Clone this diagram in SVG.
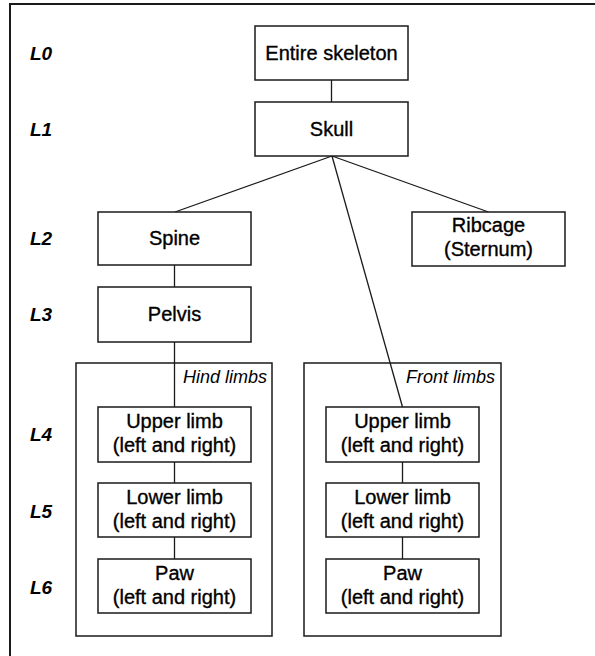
<svg xmlns="http://www.w3.org/2000/svg" width="595" height="656" viewBox="0 0 595 656">
  <style>
    .box { fill: #ffffff; stroke: #1a1a1a; stroke-width: 1.5; }
    .grp { fill: none; stroke: #1a1a1a; stroke-width: 1.5; }
    .frame { fill: none; stroke: #1a1a1a; stroke-width: 2; }
    .edge { stroke: #1a1a1a; stroke-width: 1.3; fill: none; }
    .lbl { font-family: "Liberation Sans", Arial, sans-serif; font-size: 20px; fill: #000; stroke: #000; stroke-width: 0.35; text-anchor: middle; }
    .lvl { font-family: "Liberation Sans", Arial, sans-serif; font-size: 19px; font-weight: bold; font-style: italic; fill: #000; }
    .gl { font-family: "Liberation Sans", Arial, sans-serif; font-size: 18px; font-style: italic; fill: #000; text-anchor: end; }
  </style>

  <rect width="595" height="656" fill="#ffffff"/>
  <!-- outer frame (runs off the right and bottom edges) -->
  <rect class="frame" x="10" y="4" width="610" height="700"/>

  <!-- level labels -->
  <g id="levels">
    <text class="lvl" x="30" y="60">L0</text>
    <text class="lvl" x="30" y="136">L1</text>
    <text class="lvl" x="30" y="245">L2</text>
    <text class="lvl" x="30" y="321">L3</text>
    <text class="lvl" x="30" y="441">L4</text>
    <text class="lvl" x="30" y="518">L5</text>
    <text class="lvl" x="30" y="594">L6</text>
  </g>

  <!-- limb groups -->
  <g id="hind-limbs">
    <rect class="grp" x="76" y="363" width="196" height="273"/>
    <text class="gl" x="267" y="383">Hind limbs</text>
  </g>
  <g id="front-limbs">
    <rect class="grp" x="304" y="363" width="197" height="273"/>
    <text class="gl" x="495" y="383">Front limbs</text>
  </g>

  <!-- connectors -->
  <g id="connectors">
    <line class="edge" x1="331.5" y1="80" x2="331.5" y2="102"/>
    <line class="edge" x1="332" y1="156" x2="175" y2="212"/>
    <line class="edge" x1="332" y1="156" x2="488.5" y2="212"/>
    <line class="edge" x1="332" y1="156" x2="402.5" y2="407"/>
    <line class="edge" x1="174.5" y1="265" x2="174.5" y2="287"/>
    <line class="edge" x1="174.5" y1="342" x2="174.5" y2="407"/>
    <line class="edge" x1="174.5" y1="462" x2="174.5" y2="483"/>
    <line class="edge" x1="174.5" y1="537" x2="174.5" y2="559"/>
    <line class="edge" x1="402.5" y1="462" x2="402.5" y2="483"/>
    <line class="edge" x1="402.5" y1="537" x2="402.5" y2="559"/>
  </g>

  <!-- nodes -->
  <g id="entire-skeleton">
    <rect class="box" x="255" y="26" width="153" height="54"/>
    <text class="lbl" x="331.5" y="60">Entire skeleton</text>
  </g>
  <g id="skull">
    <rect class="box" x="255" y="102" width="153" height="54"/>
    <text class="lbl" x="331.5" y="136">Skull</text>
  </g>
  <g id="spine">
    <rect class="box" x="98" y="212" width="153" height="53"/>
    <text class="lbl" x="174.5" y="245">Spine</text>
  </g>
  <g id="ribcage">
    <rect class="box" x="412" y="212" width="153" height="54"/>
    <text class="lbl" x="488.5" y="232">Ribcage</text>
    <text class="lbl" x="488.5" y="256">(Sternum)</text>
  </g>
  <g id="pelvis">
    <rect class="box" x="98" y="287" width="153" height="55"/>
    <text class="lbl" x="174.5" y="321">Pelvis</text>
  </g>

  <g id="hind-upper">
    <rect class="box" x="98" y="407" width="153" height="55"/>
    <text class="lbl" x="174.5" y="428">Upper limb</text>
    <text class="lbl" x="174.5" y="452">(left and right)</text>
  </g>
  <g id="hind-lower">
    <rect class="box" x="98" y="483" width="153" height="54"/>
    <text class="lbl" x="174.5" y="504">Lower limb</text>
    <text class="lbl" x="174.5" y="528">(left and right)</text>
  </g>
  <g id="hind-paw">
    <rect class="box" x="98" y="559" width="153" height="54"/>
    <text class="lbl" x="174.5" y="580">Paw</text>
    <text class="lbl" x="174.5" y="604">(left and right)</text>
  </g>

  <g id="front-upper">
    <rect class="box" x="326" y="407" width="153" height="55"/>
    <text class="lbl" x="402.5" y="428">Upper limb</text>
    <text class="lbl" x="402.5" y="452">(left and right)</text>
  </g>
  <g id="front-lower">
    <rect class="box" x="326" y="483" width="153" height="54"/>
    <text class="lbl" x="402.5" y="504">Lower limb</text>
    <text class="lbl" x="402.5" y="528">(left and right)</text>
  </g>
  <g id="front-paw">
    <rect class="box" x="326" y="559" width="153" height="54"/>
    <text class="lbl" x="402.5" y="580">Paw</text>
    <text class="lbl" x="402.5" y="604">(left and right)</text>
  </g>
</svg>
